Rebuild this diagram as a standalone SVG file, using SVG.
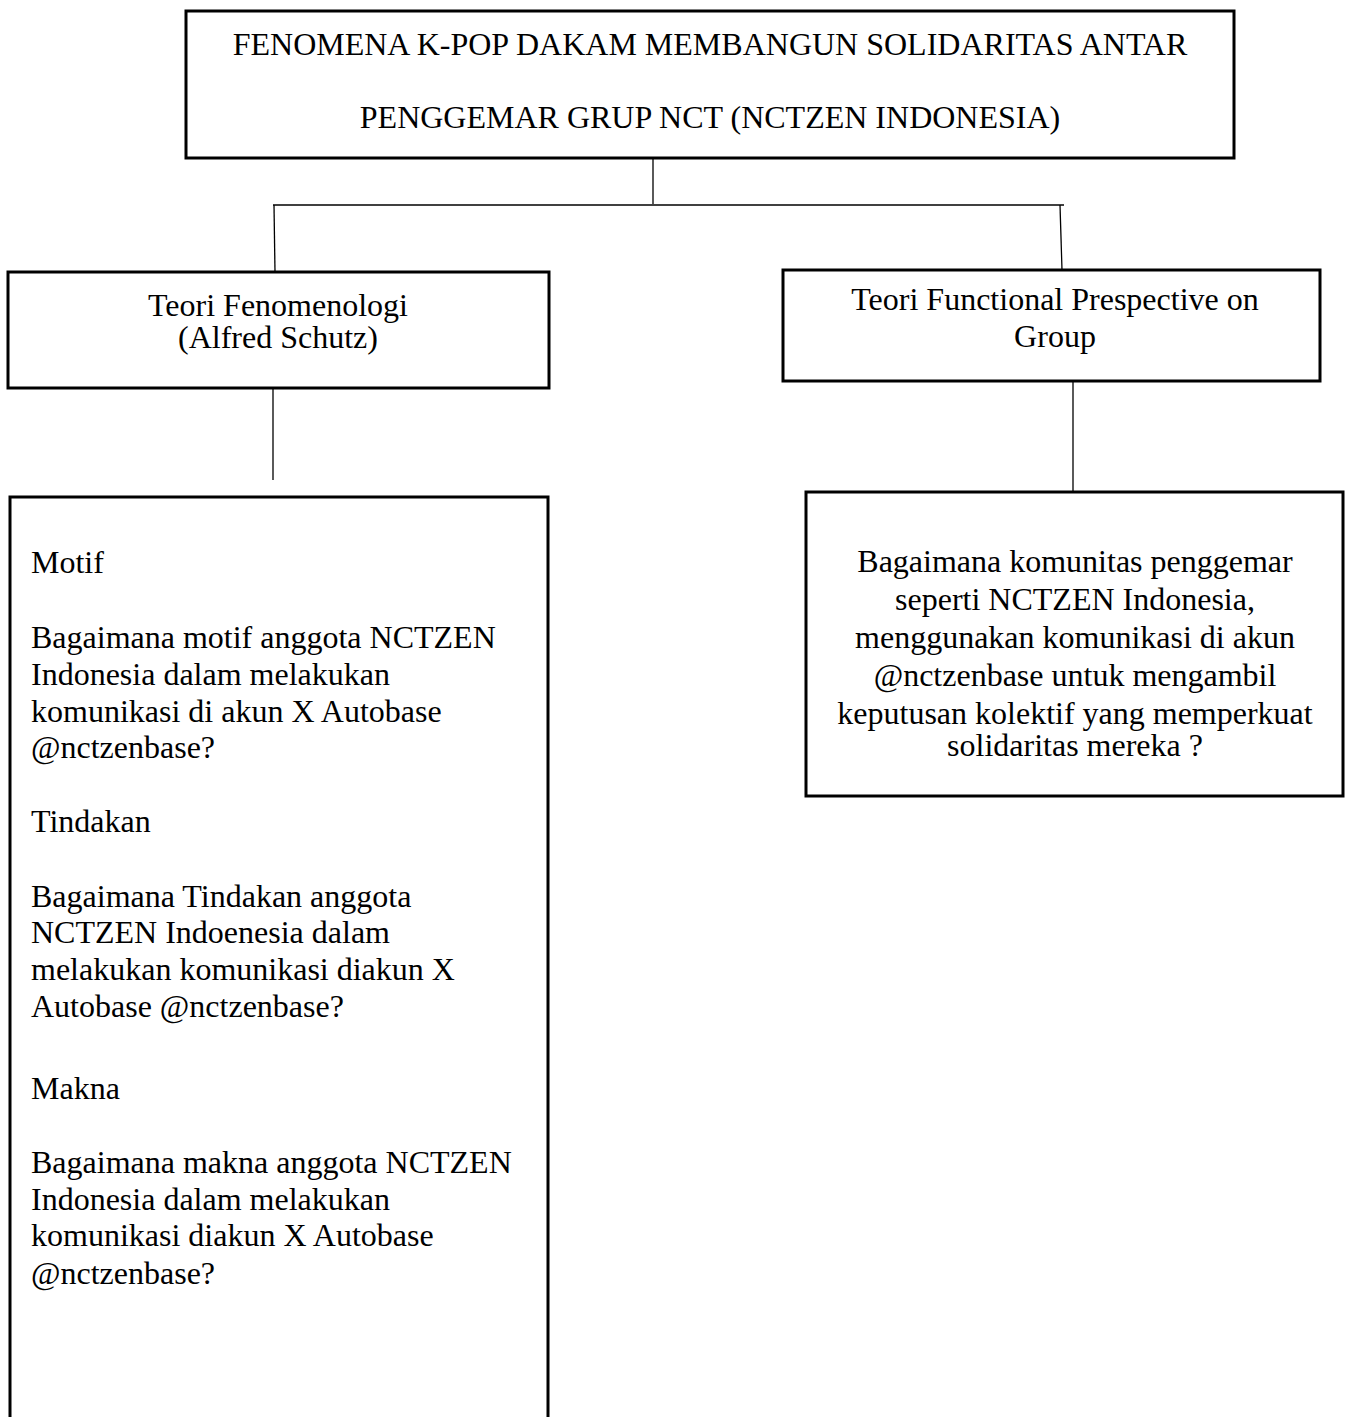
<svg xmlns="http://www.w3.org/2000/svg" width="1345" height="1417" viewBox="0 0 1345 1417">
<style>
.box{fill:#fff;stroke:#000;stroke-width:3}
.ln{stroke:#000;stroke-width:1.3;fill:none}
text{font-family:"Liberation Serif","Times New Roman",serif;fill:#000}
.t{font-size:32px}
.c{text-anchor:middle}
</style>
<rect width="1345" height="1417" fill="#fff"/>
<g id="connectors">
<line class="ln" x1="653" y1="158" x2="653" y2="204"/>
<line class="ln" x1="273" y1="205" x2="1064" y2="205"/>
<line class="ln" x1="274" y1="205" x2="275" y2="272"/>
<line class="ln" x1="1060" y1="205" x2="1062" y2="270"/>
<line class="ln" x1="273" y1="379" x2="273" y2="480"/>
<line class="ln" x1="1073" y1="381" x2="1073" y2="492"/>
</g>
<g id="title">
<rect class="box" x="186" y="11" width="1048" height="147"/>
<text class="t c" x="710" y="55">FENOMENA K-POP DAKAM MEMBANGUN SOLIDARITAS ANTAR</text>
<text class="t c" x="710" y="128">PENGGEMAR GRUP NCT (NCTZEN INDONESIA)</text>
</g>
<g id="fenomenologi">
<rect class="box" x="8" y="272" width="541" height="116"/>
<text class="t c" x="278" y="316">Teori Fenomenologi</text>
<text class="t c" x="278" y="348">(Alfred Schutz)</text>
</g>
<g id="functional">
<rect class="box" x="783" y="270" width="537" height="111"/>
<text class="t c" x="1055" y="310">Teori Functional Prespective on</text>
<text class="t c" x="1055" y="347">Group</text>
</g>
<g id="questions-left">
<path class="box" d="M10 1420 V497 H548 V1420"/>
<text class="t" x="31" y="573">Motif</text>
<text class="t" x="31" y="648">Bagaimana motif anggota NCTZEN</text>
<text class="t" x="31" y="685">Indonesia dalam melakukan</text>
<text class="t" x="31" y="722">komunikasi di akun X Autobase</text>
<text class="t" x="31" y="758">@nctzenbase?</text>
<text class="t" x="31" y="832">Tindakan</text>
<text class="t" x="31" y="907">Bagaimana Tindakan anggota</text>
<text class="t" x="31" y="943">NCTZEN Indoenesia dalam</text>
<text class="t" x="31" y="980">melakukan komunikasi diakun X</text>
<text class="t" x="31" y="1017">Autobase @nctzenbase?</text>
<text class="t" x="31" y="1099">Makna</text>
<text class="t" x="31" y="1173">Bagaimana makna anggota NCTZEN</text>
<text class="t" x="31" y="1210">Indonesia dalam melakukan</text>
<text class="t" x="31" y="1246">komunikasi diakun X Autobase</text>
<text class="t" x="31" y="1284">@nctzenbase?</text>
</g>
<g id="questions-right">
<rect class="box" x="806" y="492" width="537" height="304"/>
<text class="t c" x="1075" y="572">Bagaimana komunitas penggemar</text>
<text class="t c" x="1075" y="610">seperti NCTZEN Indonesia,</text>
<text class="t c" x="1075" y="648">menggunakan komunikasi di akun</text>
<text class="t c" x="1075" y="686">@nctzenbase untuk mengambil</text>
<text class="t c" x="1075" y="724">keputusan kolektif yang memperkuat</text>
<text class="t c" x="1075" y="756">solidaritas mereka ?</text>
</g>
</svg>
